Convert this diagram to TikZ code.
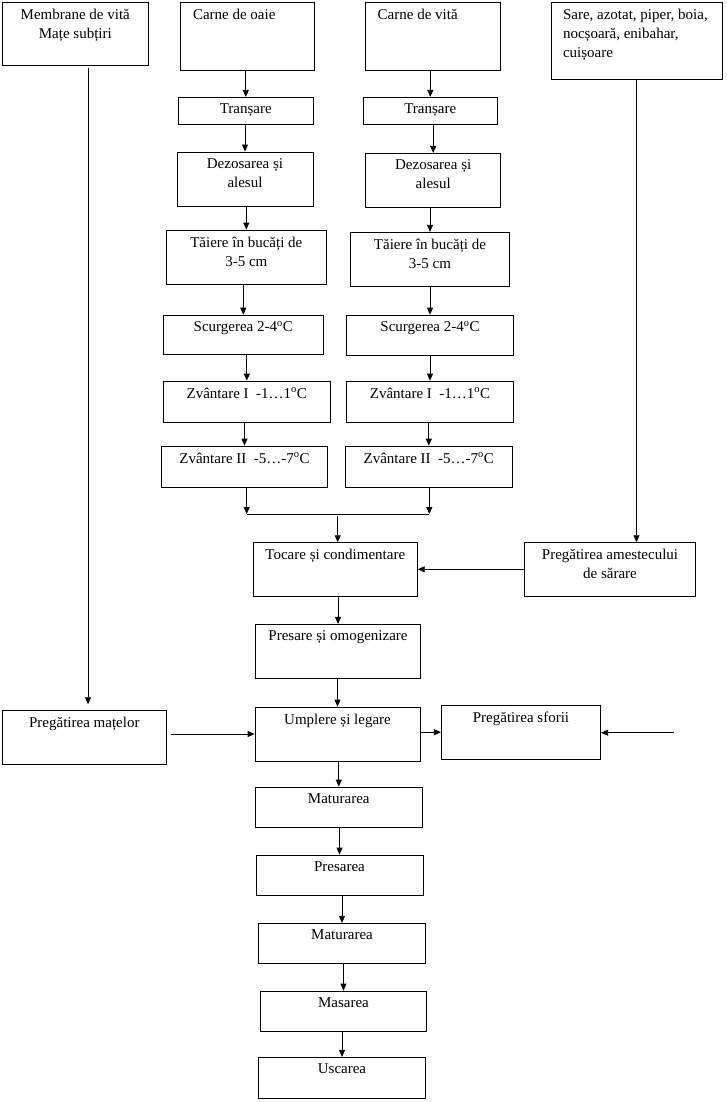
\documentclass[tikz,border=0pt]{standalone}
\usepackage{fontspec}
\setmainfont{Liberation Serif}
\usetikzlibrary{arrows.meta}
\usetikzlibrary{calc}

\begin{document}
\begin{tikzpicture}[x=1pt,y=-1pt,line width=0.8pt,>={Triangle[length=7pt,width=6pt]},
  cutie/.style 2 args={draw,minimum width=#1,minimum height=#2,inner sep=0pt},
  eticheta/.style={anchor=north,yshift=-6.7pt,inner sep=0pt,align=center,
    font=\fontsize{15pt}{19pt}\selectfont}]
\useasboundingbox (0,0) rectangle (726,1102);
% materii prime
\node[cutie={145.5}{63},label={[eticheta]north:{Membrane de vită\\Mațe subțiri}}] (membrane) at (75.3,33.5) {};
\node[cutie={134}{68},label={[eticheta,anchor=north west,xshift=13pt]north west:Carne de oaie}] (oaie) at (247,36) {};
\node[cutie={135}{68},label={[eticheta,anchor=north west,xshift=12pt]north west:Carne de vită}] (vita) at (433.2,36) {};
\node[cutie={171}{77},label={[eticheta,align=left,anchor=north west,xshift=12pt]north west:{Sare, azotat, piper, boia,\\nocșoară, enibahar,\\cuișoare}}] (sare) at (636.5,40.5) {};
% coloana oaie
\node[cutie={135}{27},label={[eticheta]north:Tranșare}] (tr1) at (245.8,110.8) {};
\node[cutie={136}{54.7},label={[eticheta]north:{Dezosarea și\\alesul}}] (dez1) at (245,179.3) {};
\node[cutie={160.7}{54},label={[eticheta]north:{Tăiere în bucăți de\\3-5 cm}}] (tai1) at (246.3,257) {};
\node[cutie={160}{39.3},label={[eticheta]north:Scurgerea 2-4\textsuperscript{o}C}] (scu1) at (243.3,334.7) {};
\node[cutie={167}{41.3},label={[eticheta]north:Zvântare I\ \ -1…1\textsuperscript{o}C}] (zvi1) at (246.8,401.7) {};
\node[cutie={165.7}{41.3},label={[eticheta]north:Zvântare II\ \ -5…-7\textsuperscript{o}C}] (zvii1) at (244.5,466.7) {};
% coloana vita
\node[cutie={134}{27},label={[eticheta]north:Tranșare}] (tr2) at (430.3,110.8) {};
\node[cutie={135}{54},label={[eticheta]north:{Dezosarea și\\alesul}}] (dez2) at (433.2,180.3) {};
\node[cutie={158.7}{54.4},label={[eticheta]north:{Tăiere în bucăți de\\3-5 cm}}] (tai2) at (430,259.5) {};
\node[cutie={166.7}{40},label={[eticheta]north:Scurgerea 2-4\textsuperscript{o}C}] (scu2) at (430,335) {};
\node[cutie={166.7}{41.3},label={[eticheta]north:Zvântare I\ \ -1…1\textsuperscript{o}C}] (zvi2) at (430,401.7) {};
\node[cutie={167}{41.3},label={[eticheta]north:Zvântare II\ \ -5…-7\textsuperscript{o}C}] (zvii2) at (428.8,466.7) {};
% fluxul principal
\node[cutie={164}{53.3},label={[eticheta]north:Tocare și condimentare}] (tocare) at (335.3,569.3) {};
\node[cutie={171.3}{53.3},label={[eticheta]north:{Pregătirea amestecului\\de sărare}}] (amestec) at (610,569.3) {};
\node[cutie={164.7}{53.7},label={[eticheta]north:Presare și omogenizare}] (presare) at (338,651.2) {};
\node[cutie={163.3}{53.3},label={[eticheta]north:Pregătirea mațelor}] (matelor) at (84.3,737.3) {};
\node[cutie={165}{54},label={[eticheta]north:Umplere și legare}] (umplere) at (337.5,734) {};
\node[cutie={159.4}{54.3},label={[eticheta]north:Pregătirea sforii}] (sforii) at (521,732.2) {};
\node[cutie={167.7}{40},label={[eticheta]north:Maturarea}] (mat1) at (338.8,807) {};
\node[cutie={167}{40},label={[eticheta]north:Presarea}] (presarea) at (339.5,875) {};
\node[cutie={167.3}{40},label={[eticheta]north:Maturarea}] (mat2) at (342,943.3) {};
\node[cutie={166.3}{40.3},label={[eticheta]north:Masarea}] (masarea) at (343.5,1011.2) {};
\node[cutie={167.3}{41},label={[eticheta]north:Uscarea}] (uscarea) at (342,1077.8) {};
% sageti verticale
\foreach \a/\b in {oaie/tr1,tr1/dez1,dez1/tai1,tai1/scu1,scu1/zvi1,zvi1/zvii1,
    vita/tr2,tr2/dez2,dez2/tai2,tai2/scu2,scu2/zvi2,zvi2/zvii2,
    tocare/presare,presare/umplere,umplere/mat1,mat1/presarea,
    presarea/mat2,mat2/masarea,masarea/uscarea}
    \draw[->] (\b.north |- \a.south) -- (\b.north);
% unire
\coordinate (jos1) at (246.7,514);
\coordinate (jos2) at (429.3,514);
\coordinate (mij) at (337.7,516);
\draw[->] (jos1 |- zvii1.south) -- (jos1);
\draw[->] (jos2 |- zvii2.south) -- (jos2);
\draw (jos1) -- (jos2);
\draw[->] (mij) -- (mij |- tocare.north);
% condimente
\draw[->] (sare.south) -- (sare.south |- amestec.north);
\draw[->] (amestec.west) -- (tocare.east);
% membrane
\coordinate (m1) at (88,68);
\draw[->,shorten >=6pt] (m1) -- (m1 |- matelor.north);
\draw[->] ([xshift=4.7pt]matelor.east |- umplere.west) -- (umplere.west);
% sfoara
\coordinate (sfoara) at (674,732.7);
\draw[->] (umplere.east |- sforii.west) -- (sforii.west);
\draw[->] (sfoara) -- (sfoara -| sforii.east);
\end{tikzpicture}
\end{document}
